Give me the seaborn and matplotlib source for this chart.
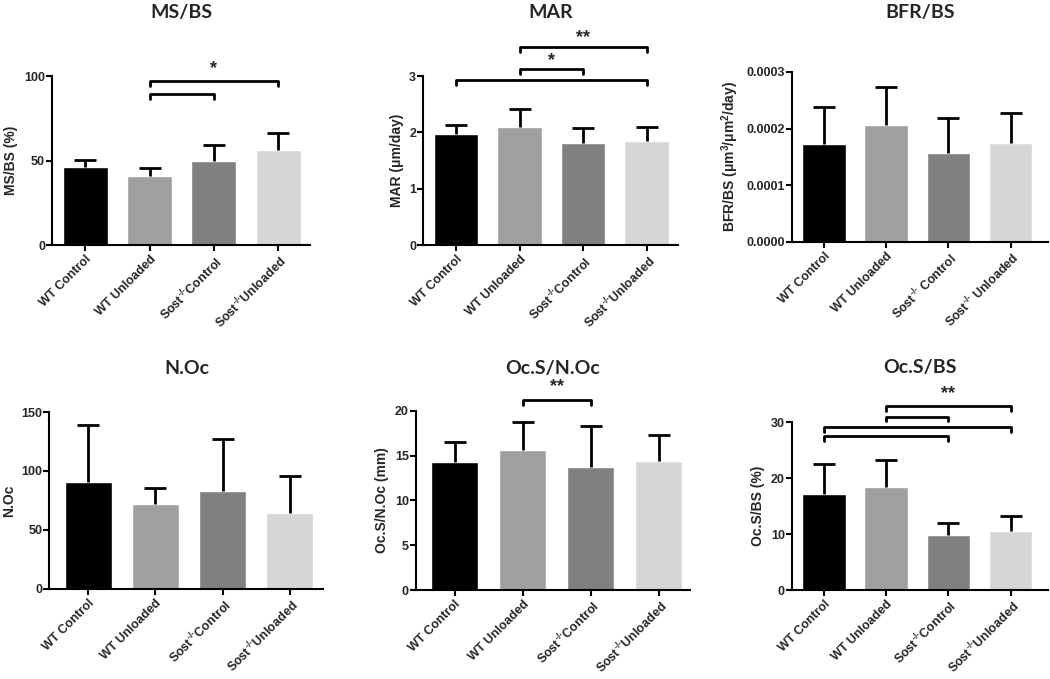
import numpy as np
import pandas as pd
import seaborn as sns
import matplotlib.pyplot as plt
from matplotlib.ticker import FormatStrFormatter

sns.set_style("ticks")
plt.rcParams['font.family'] = ['Liberation Sans', 'DejaVu Sans']
plt.rcParams['mathtext.fontset'] = 'custom'
plt.rcParams['mathtext.rm'] = 'Liberation Sans:bold'
plt.rcParams['mathtext.it'] = 'Liberation Sans:bold'
plt.rcParams['mathtext.bf'] = 'Liberation Sans:bold'

groups = ["WT Control", "WT Unloaded", r"Sost$^{\text{-/-}}$Control", r"Sost$^{\text{-/-}}$Unloaded"]
groups_bfr = ["WT Control", "WT Unloaded", r"Sost$^{\text{-/-}}$ Control", r"Sost$^{\text{-/-}}$ Unloaded"]
colors = ["#000000", "#a0a0a0", "#808080", "#d6d6d6"]

ms_bs = [46, 41, 50, 56.5]
ms_bs_sd = [4.5, 4.5, 9.5, 10]
mar = [1.98, 2.1, 1.81, 1.85]
mar_sd = [0.15, 0.31, 0.27, 0.24]
bfr = [0.000172, 0.000207, 0.000157, 0.000175]
bfr_sd = [0.000066, 0.000067, 0.000062, 0.000052]
n_oc = [90.5, 72, 83, 64]
n_oc_sd = [49, 13.5, 44, 32]
ocs_noc = [14.3, 15.6, 13.7, 14.4]
ocs_noc_sd = [2.2, 3.1, 4.6, 2.9]
ocs_bs = [17.2, 18.5, 9.9, 10.5]
ocs_bs_sd = [5.4, 4.7, 2.1, 2.7]

# significance brackets: (from group, to group, height), then star label and its height
ms_bs_brackets = [(1, 2, 89.2), (1, 3, 97.2)]
ms_bs_stars = [("*", 2, 99.5)]
mar_brackets = [(0, 3, 2.93), (1, 2, 3.12), (1, 3, 3.51)]
mar_stars = [("*", 1.5, 3.13), ("**", 2, 3.54)]
ocs_noc_brackets = [(1, 2, 21.2)]
ocs_noc_stars = [("**", 1.5, 21.7)]
ocs_bs_brackets = [(0, 2, 27.5), (0, 3, 29.1), (1, 2, 31.0), (1, 3, 32.9)]
ocs_bs_stars = [("**", 2, 33.6)]

panels = [
    dict(title="MS/BS", vals=ms_bs, sd=ms_bs_sd, labels=groups, ylabel="MS/BS (%)",
         ylim=100, yticks=[0, 50, 100], br=ms_bs_brackets, st=ms_bs_stars,
         pos=[0.0495, 0.639, 0.246, 0.249], ty=0.982, xl=(-0.52, 3.5)),
    dict(title="MAR", vals=mar, sd=mar_sd, labels=groups, ylabel="MAR (μm/day)",
         ylim=3, yticks=[0, 1, 2, 3], br=mar_brackets, st=mar_stars,
         pos=[0.403, 0.639, 0.243, 0.249], ty=0.982, xl=(-0.52, 3.5)),
    dict(title="BFR/BS", vals=bfr, sd=bfr_sd, labels=groups_bfr,
         ylabel="BFR/BS (μm$^3$/μm$^2$/day)",
         ylim=0.0003, yticks=[0, 0.0001, 0.0002, 0.0003], br=[], st=[],
         pos=[0.754, 0.644, 0.244, 0.250], ty=0.982, xl=(-0.52, 3.6), fmt='%.4f'),
    dict(title="N.Oc", vals=n_oc, sd=n_oc_sd, labels=groups, ylabel="N.Oc",
         ylim=150, yticks=[0, 50, 100, 150], br=[], st=[],
         pos=[0.047, 0.133, 0.261, 0.260], ty=0.458, xl=(-0.58, 3.5)),
    dict(title="Oc.S/N.Oc", vals=ocs_noc, sd=ocs_noc_sd, labels=groups, ylabel="Oc.S/N.Oc (mm)",
         ylim=20, yticks=[0, 5, 10, 15, 20], br=ocs_noc_brackets, st=ocs_noc_stars,
         pos=[0.396, 0.131, 0.261, 0.264], ty=0.458, xl=(-0.57, 3.46)),
    dict(title="Oc.S/BS", vals=ocs_bs, sd=ocs_bs_sd, labels=groups, ylabel="Oc.S/BS (%)",
         ylim=30, yticks=[0, 10, 20, 30], br=ocs_bs_brackets, st=ocs_bs_stars,
         pos=[0.754, 0.131, 0.244, 0.247], ty=0.459, xl=(-0.52, 3.6)),
]

fig = plt.figure(figsize=(10.5, 6.79), dpi=100)

for p in panels:
    ax = fig.add_axes(p["pos"])
    df = pd.DataFrame({"group": p["labels"], "value": p["vals"]})
    sns.barplot(data=df, x="group", y="value", hue="group", palette=colors,
                legend=False, width=0.7, saturation=1, errorbar=None, ax=ax)
    x = np.arange(len(p["vals"]))
    eb = ax.errorbar(x, p["vals"], yerr=[np.zeros(4), p["sd"]], fmt="none",
                     ecolor="black", elinewidth=2, capsize=8, capthick=2, zorder=5)
    eb[1][0].set_visible(False)  # no cap at the bar top
    ax.set_ylim(0, p["ylim"])
    ax.set_xlim(*p["xl"])
    ax.set_yticks(p["yticks"])
    if "fmt" in p:
        ax.yaxis.set_major_formatter(FormatStrFormatter(p["fmt"]))
    ax.set_xlabel("")
    ax.set_ylabel(p["ylabel"], fontsize=10, fontweight="bold", labelpad=4)
    ax.set_xticks(x)
    ax.set_xticklabels(p["labels"], rotation=45, ha="right", rotation_mode="anchor",
                       fontsize=9, fontweight="bold")
    for lab in ax.get_yticklabels():
        lab.set_fontweight("bold")
        lab.set_fontsize(9)
    ax.tick_params(axis="both", direction="out", length=4, width=1.5, color="black", pad=1)
    ax.tick_params(axis="x", length=4, pad=2)
    for s in ["left", "bottom"]:
        ax.spines[s].set_linewidth(1.5)
        ax.spines[s].set_color("black")
    sns.despine(ax=ax)

    leg = p["ylim"] * 0.028
    for i, j, h in p["br"]:
        ax.plot([i, i, j, j], [h - leg, h, h, h - leg], color="black", lw=2, clip_on=False)
    for s, xs, h in p["st"]:
        ax.text(xs, h, s, ha="center", va="bottom", fontsize=13, fontweight="bold")

    cx = p["pos"][0] + p["pos"][2] / 2
    fig.text(cx, p["ty"], p["title"], ha="center", va="center",
             fontsize=14, fontweight="bold", family=["Lato", "DejaVu Sans"])

fig.savefig("out.png", dpi=100, facecolor="white")
